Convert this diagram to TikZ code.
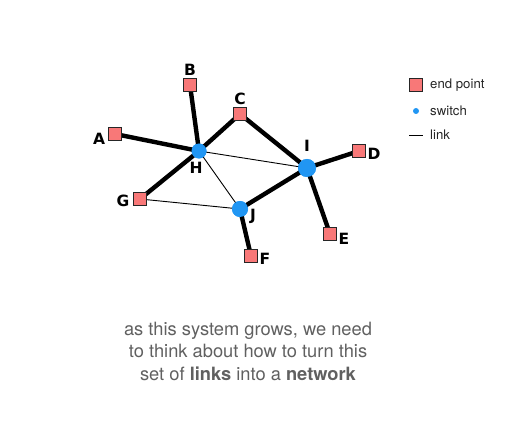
\documentclass[tikz,border=0pt]{standalone}
\usepackage{fontspec}
\setmainfont{TeX Gyre Heros}
\newfontfamily\labfont{DejaVu Sans}
\definecolor{epfill}{HTML}{F87878}
\definecolor{swblue}{HTML}{2196F3}
\definecolor{captgray}{HTML}{606060}
\begin{document}
\begin{tikzpicture}[x=1pt,y=-1pt,
  endpt/.style={draw=black!85,line width=0.9pt,fill=epfill,minimum size=13pt,inner sep=0pt,rectangle},
  sw/.style={circle,fill=swblue,inner sep=0pt,minimum size=#1},
  lab/.style={font=\labfont\bfseries\fontsize{15.5}{15.5}\selectfont,inner sep=0pt},
  thick link/.style={line width=4.4pt},
  thin link/.style={line width=0.9pt},
  legtext/.style={font=\fontsize{13.2}{13.2}\selectfont,anchor=west,inner sep=0pt,text=black!85}]
\useasboundingbox (0,0) rectangle (530,422);
% nodes
\node[endpt] (B) at (190,85) {};
\node[endpt] (C) at (240,114) {};
\node[endpt] (A) at (115,134) {};
\node[endpt] (D) at (359,151) {};
\node[endpt] (G) at (140,199) {};
\node[endpt] (E) at (330,234) {};
\node[endpt] (F) at (251,256) {};
\node[sw=15pt] (H) at (199,151) {};
\node[sw=18pt] (I) at (307,168) {};
\node[sw=16pt] (J) at (240,209) {};
% links
\draw[thin link] (H.center) -- (I.center);
\draw[thin link] (H.center) -- (J.center);
\draw[thin link] (G.center) -- (J.center);
\draw[thick link] (B.center) -- (H.center);
\draw[thick link] (A.center) -- (H.center);
\draw[thick link] (C.center) -- (H.center);
\draw[thick link] (C.center) -- (I.center);
\draw[thick link] (G.center) -- (H.center);
\draw[thick link] (J.center) -- (I.center);
\draw[thick link] (D.center) -- (I.center);
\draw[thick link] (E.center) -- (I.center);
\draw[thick link] (F.center) -- (J.center);
% redraw nodes on top
\node[endpt] at (B) {};
\node[endpt] at (C) {};
\node[endpt] at (A) {};
\node[endpt] at (D) {};
\node[endpt] at (G) {};
\node[endpt] at (E) {};
\node[endpt] at (F) {};
\node[sw=15pt] at (H) {};
\node[sw=18pt] at (I) {};
\node[sw=16pt] at (J) {};
% labels
\node[lab] (lB) at (190,70) {B};
\node[lab] (lC) at (240,99) {C};
\node[lab] (lA) at (99,139) {A};
\node[lab] (lH) at (196,168) {H};
\node[lab] (lI) at (307,146) {I};
\node[lab] (lD) at (374,154) {D};
\node[lab] (lG) at (123,201) {G};
\node[lab] (lJ) at (253,216) {J};
\node[lab] (lE) at (344,239) {E};
\node[lab] (lF) at (265,259) {F};
% legend
\node[endpt] (legE) at (416,85) {};
\node[legtext] (legEt) at (430,85) {end point};
\node[sw=6pt] (legS) at (416,111) {};
\node[legtext] (legSt) at (430,111) {switch};
\coordinate (legL1) at (409,135);
\coordinate (legL2) at (423,135);
\draw[line width=0.9pt] (legL1) -- (legL2);
\node[legtext] (legLt) at (430,135) {link};
% caption
\node[font=\fontsize{18.3}{22.5}\selectfont,text=captgray,align=center] (cap) at (248,351)
 {as this system grows, we need\\to think about how to turn this\\set of \textbf{links} into a \textbf{network}};
\end{tikzpicture}
\end{document}
